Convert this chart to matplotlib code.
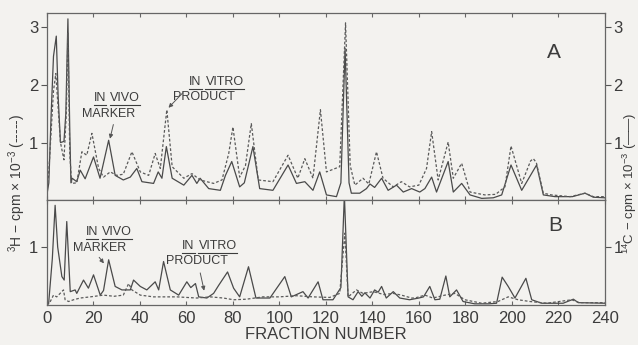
import matplotlib
matplotlib.use("Agg")
import matplotlib.pyplot as plt
from matplotlib.lines import Line2D
from matplotlib.transforms import IdentityTransform

plt.rcParams['font.family'] = ['Liberation Sans', 'DejaVu Sans']
plt.rcParams['mathtext.fontset'] = 'custom'
plt.rcParams['mathtext.rm'] = 'Liberation Sans'
plt.rcParams['mathtext.it'] = 'Liberation Sans'

# panel A, solid line (14C)
frac_a_solid = [0, 1, 2, 3, 4.2, 5, 6, 7.5, 8.3, 9.2, 10, 10.5, 11, 13, 14.5, 16.6, 20.2, 23,
                26.7, 29.5, 33, 36, 38.8, 41, 46, 48, 49.6, 51.5, 54, 59, 62.5, 64.6, 66, 69.7,
                74.7, 76.9, 79.6, 83, 85, 88.7, 91.6, 97.3, 103.8, 107.4, 111, 114.5, 117.4,
                120.3, 124.6, 126.5, 128.3, 130, 131, 134.6, 137.5, 139, 141, 144, 146.8, 150.4,
                153.3, 156.9, 160.4, 162.6, 165.5, 167.6, 172.6, 174.8, 178.4, 182, 187, 192,
                195.6, 199.6, 204.2, 210.6, 213.5, 218.5, 226, 231.4, 235, 240]
a_solid = [0.05, 0.3, 1.5, 2.5, 2.85, 1.8, 1.0, 1.02, 1.5, 3.15, 1.2, 0.3, 0.38, 0.32, 0.52, 0.37,
           0.75, 0.38, 1.04, 0.43, 0.35, 0.4, 0.55, 0.32, 0.29, 0.49, 0.38, 0.93, 0.38, 0.26,
           0.43, 0.29, 0.38, 0.2, 0.17, 0.43, 0.67, 0.23, 0.3, 0.93, 0.2, 0.17, 0.61, 0.29, 0.32,
           0.17, 0.49, 0.09, 0.06, 0.3, 2.64, 0.3, 0.12, 0.12, 0.2, 0.28, 0.22, 0.38, 0.17, 0.26,
           0.14, 0.2, 0.14, 0.2, 0.4, 0.14, 0.67, 0.14, 0.29, 0.09, 0.03, 0.04, 0.09, 0.61, 0.17,
           0.61, 0.09, 0.06, 0.06, 0.12, 0.05, 0.04]

# panel A, dashed line (3H)
frac_a_dash = [0, 1, 2, 3, 4, 5, 6, 7.5, 8.5, 9.2, 10, 10.8, 13, 15.2, 17.3, 19.5, 22.4, 24.5,
               27.4, 30.2, 33, 36.7, 40.3, 43.9, 46.7, 48.9, 51.7, 54, 59, 62.5, 66, 71.8, 75.4,
               78.3, 80.1, 83, 85.5, 88, 91, 97.3, 103.8, 108, 111, 114.5, 117.7, 120.3, 126,
               128.5, 130.5, 132.5, 136, 138.5, 141.8, 144.6, 149, 152.5, 156, 160, 163.3, 165.5,
               168.3, 172.6, 174.8, 178.4, 182, 188.4, 193, 197, 199.6, 204.2, 208, 209.2, 210.5,
               213.5, 217, 225, 231.4, 235, 240]
a_dash = [0.05, 0.5, 1.2, 1.9, 2.2, 1.6, 1.0, 0.7, 1.5, 2.9, 0.8, 0.29, 0.3, 0.84, 0.78, 1.16,
          0.55, 0.4, 0.49, 0.43, 0.45, 0.84, 0.49, 0.43, 0.81, 0.55, 1.57, 0.58, 0.38, 0.46, 0.35,
          0.29, 0.35, 0.81, 1.27, 0.4, 0.6, 1.33, 0.35, 0.32, 0.78, 0.38, 0.72, 0.38, 1.57, 0.49,
          0.58, 3.08, 0.6, 0.26, 0.38, 0.28, 0.84, 0.38, 0.23, 0.32, 0.23, 0.26, 0.55, 1.19, 0.35,
          1.01, 0.38, 0.64, 0.14, 0.09, 0.1, 0.23, 0.94, 0.29, 0.68, 0.72, 0.65, 0.12, 0.09, 0.06,
          0.12, 0.06, 0.06]

# panel B, solid line (14C)
frac_b_solid = [0, 0.9, 2.5, 3.7, 4.8, 6.6, 7.6, 8.7, 10.2, 12.3, 13, 15.9, 18, 20.2, 23.1, 24.5,
                26.7, 29.5, 32.4, 36, 37.4, 40.3, 43.1, 46.7, 48.2, 50.3, 53.2, 56.8, 60.3, 62,
                64, 65.4, 68.9, 71.8, 74, 77.8, 80.4, 83, 86.8, 90, 96, 102.4, 105.2, 110.2, 112.4,
                116.7, 118.8, 123.1, 126.5, 128, 129.6, 131.7, 133.9, 135.5, 136.8, 139, 141,
                142.5, 144, 146, 149, 151.8, 156, 160, 162, 164.7, 166.9, 169, 171.6, 173.3,
                176.2, 179, 184, 190, 193.4, 195.8, 198.4, 201.3, 206, 208.5, 212.8, 222, 226.4,
                228.5, 240]
b_solid = [0, 0.02, 0.8, 1.72, 1.0, 0.49, 0.43, 1.44, 0.23, 0.26, 0.2, 0.43, 0.29, 0.52, 0.17,
           0.25, 0.78, 0.32, 0.26, 0.26, 0.43, 0.32, 0.26, 0.4, 0.26, 0.75, 0.26, 0.17, 0.4, 0.3,
           0.37, 0.14, 0.12, 0.2, 0.34, 0.57, 0.29, 0.14, 0.66, 0.12, 0.12, 0.49, 0.14, 0.23, 0.12,
           0.4, 0.09, 0.09, 0.3, 1.9, 0.14, 0.09, 0.23, 0.15, 0.21, 0.12, 0.26, 0.22, 0.32, 0.12,
           0.23, 0.12, 0.09, 0.12, 0.14, 0.32, 0.09, 0.1, 0.5, 0.14, 0.26, 0.06, 0.02, 0.02, 0.03,
           0.48, 0.32, 0.12, 0.46, 0.09, 0.03, 0.03, 0.1, 0.04, 0.03]

# panel B, dashed line (3H)
frac_b_dash = [0, 1.5, 3, 4.4, 7.3, 8, 9.5, 11.6, 14.5, 18.8, 24.5, 29, 33, 35.3, 36.7, 40.3,
               46, 56, 64.6, 70.4, 76, 80.4, 86, 93, 100, 107.4, 114.5, 121.7, 126, 128.2, 129.6,
               133.2, 136, 140.4, 145, 149, 152.5, 156.9, 158.3, 162.6, 166, 171.2, 175.5, 179.8,
               187, 194, 198.4, 202.7, 207.7, 215, 225.7, 229, 240]
b_dash = [0, 0.05, 0.17, 0.14, 0.26, 0.09, 0.06, 0.09, 0.12, 0.14, 0.17, 0.15, 0.17, 0.37, 0.26,
          0.17, 0.14, 0.14, 0.12, 0.14, 0.12, 0.09, 0.1, 0.14, 0.14, 0.16, 0.14, 0.13, 0.2, 1.24,
          0.14, 0.26, 0.2, 0.23, 0.18, 0.2, 0.17, 0.12, 0.12, 0.17, 0.12, 0.17, 0.2, 0.09, 0.03,
          0.06, 0.14, 0.09, 0.06, 0.03, 0.09, 0.04, 0.04]

xticks = [0, 20, 40, 60, 80, 100, 120, 140, 160, 180, 200, 220, 240]

bg = '#f3f2ef'
ink = '#4a4a4a'
txt = '#3c3c3c'

fig = plt.figure(figsize=(6.38, 3.45), dpi=100, facecolor=bg)
ax_a = fig.add_axes([0.0729, 0.42, 0.8754, 0.542], facecolor=bg)
ax_b = fig.add_axes([0.0729, 0.116, 0.8754, 0.304], facecolor=bg)

ax_a.plot(frac_a_solid, a_solid, color=ink, lw=0.9)
ax_a.plot(frac_a_dash, a_dash, color='#5a5a5a', lw=0.9, ls=(0, (2.2, 1.6)))
ax_b.plot(frac_b_solid, b_solid, color=ink, lw=0.9)
ax_b.plot(frac_b_dash, b_dash, color='#5a5a5a', lw=0.9, ls=(0, (2.2, 1.6)))

ax_a.set_ylim(0, 3.25)
ax_b.set_ylim(0, 1.81)
ax_a.set_yticks([1, 2, 3])
ax_b.set_yticks([1])

for ax in (ax_a, ax_b):
    ax.set_xlim(0, 240)
    ax.set_xticks(xticks)
    for s in ax.spines.values():
        s.set_color('#666666')
        s.set_linewidth(0.9)
    ax.tick_params(axis='y', left=True, right=True, labelleft=True, labelright=True,
                   direction='out', length=4, width=0.8, colors='#555555',
                   labelsize=12, labelcolor=txt, pad=2)
    ax.tick_params(axis='x', top=True, bottom=True, direction='in', length=3, width=0.8,
                   colors='#666666', labelsize=12, labelcolor=txt, pad=4)
ax_a.tick_params(axis='x', labelbottom=False)

ax_b.set_xlabel('FRACTION NUMBER', fontsize=12, color=txt, labelpad=1)

fig.text(0.027, 0.47, r'$^{3}$H $-$ cpm $\times$ 10$^{-3}$ (-----)', rotation=90,
         ha='center', va='center', fontsize=10, color=txt)
fig.text(0.988, 0.47, r'$^{14}$C $-$ cpm $\times$ 10$^{-3}$ (——)', rotation=90,
         ha='center', va='center', fontsize=9.5, color=txt)

ax_a.text(218, 2.56, 'A', fontsize=15, color=txt, ha='center', va='center')
ax_b.text(218.5, 1.38, 'B', fontsize=15, color=txt, ha='center', va='center')

underlined = []


def note(ax, x, y_top, y_bot, w1, w2, bottom_word):
    t1 = ax.text(x - 0.8, y_top, w1, ha='right', va='baseline', fontsize=9, color=txt)
    t2 = ax.text(x + 0.8, y_top, w2, ha='left', va='baseline', fontsize=9, color=txt)
    ax.text(x, y_bot, bottom_word, ha='center', va='baseline', fontsize=9, color=txt)
    underlined.extend([t1, t2])


arrow = dict(arrowstyle='-|>', color='#555555', lw=0.7, mutation_scale=6)

note(ax_a, 26.5, 1.72, 1.45, 'IN', 'VIVO', 'MARKER')
ax_a.annotate('', xy=(27.0, 1.02), xytext=(29.0, 1.36), arrowprops=arrow)
note(ax_a, 67.5, 2.0, 1.74, 'IN', 'VITRO', 'PRODUCT')
ax_a.annotate('', xy=(51.6, 1.57), xytext=(59.4, 1.9), arrowprops=arrow)

note(ax_b, 23.0, 1.2, 0.93, 'IN', 'VIVO', 'MARKER')
ax_b.annotate('', xy=(25.4, 0.68), xytext=(21.9, 0.86), arrowprops=arrow)
note(ax_b, 64.5, 0.97, 0.7, 'IN', 'VITRO', 'PRODUCT')
ax_b.annotate('', xy=(68.0, 0.2), xytext=(65.8, 0.6), arrowprops=arrow)

fig.canvas.draw()
for t in underlined:
    bb = t.get_window_extent()
    y = bb.y0 - 1.0
    fig.add_artist(Line2D([bb.x0, bb.x1], [y, y], transform=IdentityTransform(),
                          color=txt, lw=0.8))

fig.savefig('out.png', dpi=100, facecolor=bg)
